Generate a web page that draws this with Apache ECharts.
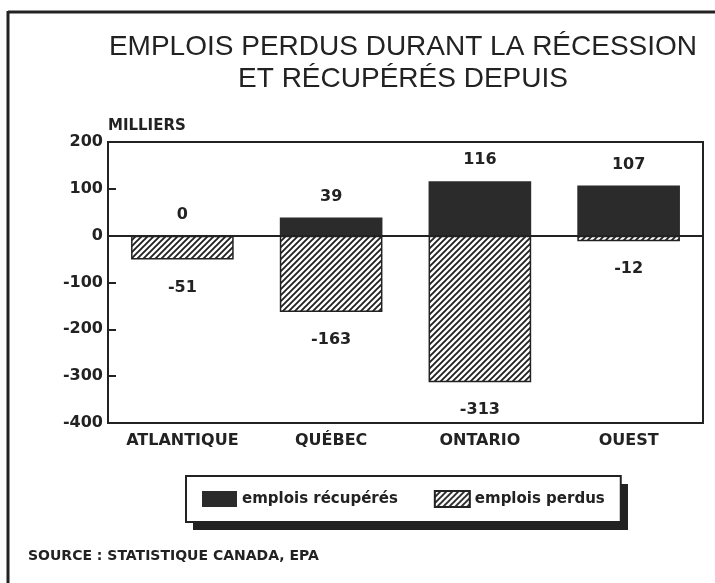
<!DOCTYPE html>
<html>
<head>
<meta charset="utf-8">
<script src="https://cdn.jsdelivr.net/npm/echarts@6/dist/echarts.min.js"></script>
<style>
  html, body { margin: 0; padding: 0; background: #fff; }
  #chart { width: 715px; height: 583px; }
</style>
</head>
<body>
<div id="chart"></div>
<script>
// données (milliers d'emplois)
var regions = ['ATLANTIQUE', 'QUÉBEC', 'ONTARIO', 'OUEST'];
var recuperes = [0, 39, 116, 107];
var perdus = [-51, -163, -313, -12];
var seriesNames = ['emplois récupérés', 'emplois perdus'];

var ink = '#222';
var boldFont = '"DejaVu Sans", sans-serif';

// motif hachuré pour les emplois perdus
function hatch() {
    var s = 6;
    var c = document.createElement('canvas');
    c.width = s;
    c.height = s;
    var ctx = c.getContext('2d');
    ctx.fillStyle = '#fff';
    ctx.fillRect(0, 0, s, s);
    ctx.strokeStyle = ink;
    ctx.lineWidth = 1.9;
    ctx.beginPath();
    ctx.moveTo(-1, 1); ctx.lineTo(1, -1);
    ctx.moveTo(0, s); ctx.lineTo(s, 0);
    ctx.moveTo(s - 1, s + 1); ctx.lineTo(s + 1, s - 1);
    ctx.stroke();
    return c;
}

var myChart = echarts.init(document.getElementById('chart'));

var option = {
    animation: false,
    backgroundColor: '#fff',
    title: {
        text: 'EMPLOIS PERDUS DURANT LA RÉCESSION\nET RÉCUPÉRÉS DEPUIS',
        left: 403,
        top: 31,
        padding: 0,
        textAlign: 'center',
        textStyle: {
            fontFamily: '"Liberation Sans", Arial, sans-serif',
            fontWeight: 'normal',
            fontSize: 28,
            lineHeight: 32,
            color: ink
        }
    },
    legend: {
        data: seriesNames,
        left: 186,
        top: 476,
        z: 5,
        icon: 'rect',
        itemWidth: 35,
        itemHeight: 16,
        itemGap: 36,
        padding: [14, 16, 14, 16],
        backgroundColor: '#fff',
        borderColor: ink,
        borderWidth: 2,
        selectedMode: false,
        textStyle: {
            fontFamily: boldFont,
            fontWeight: 'bold',
            fontSize: 15,
            color: ink
        }
    },
    grid: {
        left: 108,
        right: 12,
        top: 142,
        bottom: 160,
        show: true,
        borderColor: ink,
        borderWidth: 2
    },
    xAxis: {
        type: 'category',
        data: regions,
        axisLine: { onZero: false, lineStyle: { color: ink, width: 2 } },
        axisTick: { show: false },
        axisLabel: {
            margin: 10,
            fontFamily: boldFont,
            fontWeight: 'bold',
            fontSize: 16,
            color: ink
        }
    },
    yAxis: {
        type: 'value',
        min: -400,
        max: 200,
        interval: 100,
        name: 'MILLIERS',
        nameLocation: 'end',
        nameGap: 6,
        nameTextStyle: {
            align: 'left',
            fontFamily: boldFont,
            fontWeight: 'bold',
            fontSize: 15,
            color: ink
        },
        axisLine: { show: true, lineStyle: { color: ink, width: 2 } },
        axisTick: { show: true, inside: true, length: 8, lineStyle: { color: ink, width: 2 } },
        splitLine: { show: false },
        axisLabel: {
            margin: 5,
            fontFamily: boldFont,
            fontWeight: 'bold',
            fontSize: 16,
            color: ink
        }
    },
    series: [
        {
            name: seriesNames[0],
            type: 'bar',
            data: recuperes,
            barWidth: '69%',
            barGap: '-100%',
            itemStyle: { color: '#2b2b2b' },
            label: {
                show: true,
                position: 'top',
                distance: 13,
                fontFamily: boldFont,
                fontWeight: 'bold',
                fontSize: 16,
                color: ink
            },
            markLine: {
                silent: true,
                symbol: 'none',
                label: { show: false },
                lineStyle: { color: ink, width: 2, type: 'solid' },
                data: [{ yAxis: 0 }]
            }
        },
        {
            name: seriesNames[1],
            type: 'bar',
            data: perdus,
            barWidth: '69%',
            barGap: '-100%',
            itemStyle: {
                color: { image: hatch(), repeat: 'repeat' },
                borderColor: ink,
                borderWidth: 1.5
            },
            label: {
                show: true,
                position: 'bottom',
                distance: 20,
                fontFamily: boldFont,
                fontWeight: 'bold',
                fontSize: 16,
                color: ink
            }
        }
    ],
    graphic: [
        { type: 'line', shape: { x1: 8, y1: 12, x2: 715, y2: 12 }, style: { stroke: ink, lineWidth: 3 } },
        { type: 'line', shape: { x1: 8, y1: 11, x2: 8, y2: 583 }, style: { stroke: ink, lineWidth: 3 } },
        // ombre du cadre de la légende
        { type: 'rect', z: 0, shape: { x: 193, y: 484, width: 435, height: 46 }, style: { fill: ink } },
        {
            type: 'text',
            left: 28,
            top: 549,
            style: {
                text: 'SOURCE : STATISTIQUE CANADA, EPA',
                font: 'bold 14px "DejaVu Sans", sans-serif',
                fill: ink
            }
        }
    ]
};

if (option && typeof option === 'object') {
    myChart.setOption(option);
}
</script>
</body>
</html>
